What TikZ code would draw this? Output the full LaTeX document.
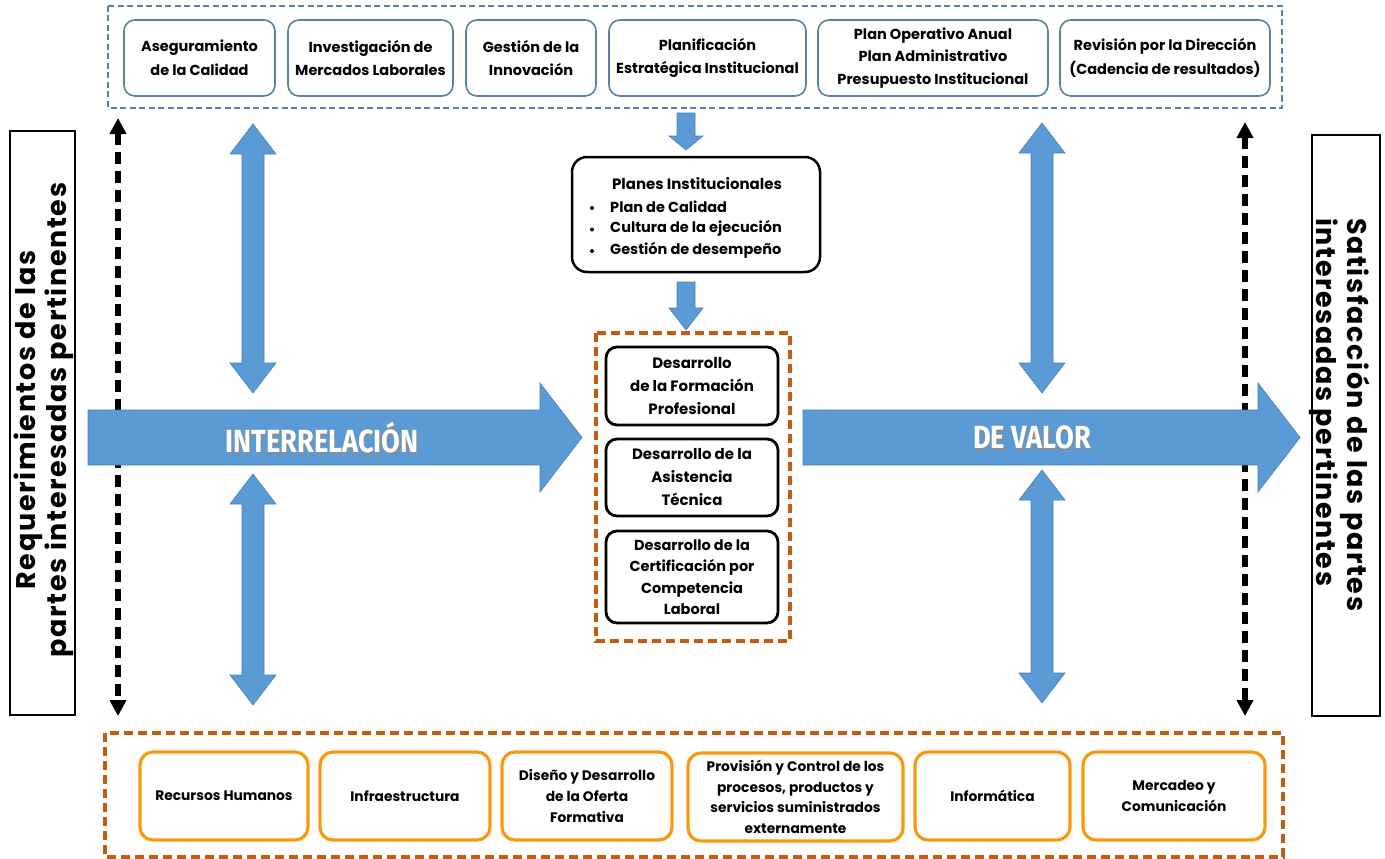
\documentclass[tikz,border=0pt]{standalone}
\usepackage{fontspec}
\setmainfont{Poppins}
\newfontfamily\condfont{Fira Sans}[FakeStretch=0.85]
\newfontfamily\sidefont{Poppins}[LetterSpace=6]
\usetikzlibrary{arrows.meta}
\definecolor{blk}{HTML}{5B9BD5}
\definecolor{blkedge}{HTML}{4A7EBB}
\definecolor{steel}{HTML}{5A80A8}
\definecolor{rust}{HTML}{C55A11}
\definecolor{amber}{HTML}{F79A10}
\newcommand\dblvarrow[3]{%
  \path[blockarrow] (#1-11,#2+30) -- (#1-23,#2+30) -- (#1,#2) -- (#1+23,#2+30) -- (#1+11,#2+30)
   -- (#1+11,#3-30) -- (#1+23,#3-30) -- (#1,#3) -- (#1-23,#3-30) -- (#1-11,#3-30) -- cycle;}
\newcommand\downblock[4]{% x, top, headbase, tip
  \path[blockarrow] (#1-9,#2) -- (#1+9,#2) -- (#1+9,#3) -- (#1+17,#3) -- (#1,#4) -- (#1-17,#3) -- (#1-9,#3) -- cycle;}
\begin{document}
\begin{tikzpicture}[x=1pt,y=-1pt,
  topbox/.style={draw=steel, line width=1.6pt, rounded corners=11pt, fill=white, align=center,
    font=\bfseries\fontsize{14.5}{23.5}\selectfont, inner sep=0pt, minimum height=76pt},
  midbox/.style={draw=black, line width=2.8pt, rounded corners=11pt, fill=white, align=center,
    font=\bfseries\fontsize{15}{23}\selectfont, inner sep=0pt, minimum width=172pt},
  botbox/.style={draw=amber, line width=3.2pt, rounded corners=13pt, fill=white, align=center,
    font=\bfseries\fontsize{13.8}{21}\selectfont, inner sep=0pt, minimum height=88pt},
  sidebox/.style={draw=black, line width=2.6pt, fill=white},
  sidetext/.style={inner sep=0pt, font=\sidefont\bfseries\fontsize{27}{31}\selectfont},
  blockarrow/.style={fill=blk, draw=blkedge, line width=0.6pt, line join=miter},
  bigtext/.style={text=white, font=\condfont\bfseries\fontsize{32}{34}\selectfont},
  shadowtext/.style={text=black!45, font=\condfont\bfseries\fontsize{32}{34}\selectfont},
  blackdash/.style={line width=6pt, dash pattern=on 12pt off 7pt, {Triangle[length=16pt,width=16pt]}-{Triangle[length=16pt,width=16pt]}},
  bullettext/.style={anchor=west, inner sep=0pt, font=\bfseries\fontsize{14.5}{16}\selectfont}
]
\useasboundingbox (0,0) rectangle (1385,859);
\fill[white] (0,0) rectangle (1385,859);

% top group
\draw[steel, line width=1.4pt, dash pattern=on 6pt off 3.5pt] (108,6) rectangle (1282,108);
\node[topbox, minimum width=151pt] (t1) at (199.5,58) {Aseguramiento\\de la Calidad};
\node[topbox, minimum width=165pt] (t2) at (370.5,58) {Investigación de\\Mercados Laborales};
\node[topbox, minimum width=130pt] (t3) at (531,58) {Gestión de la\\Innovación};
\node[topbox, minimum width=197pt] (t4) at (707.5,58) {Planificación\\Estratégica Institucional};
\node[topbox, minimum width=230pt, font=\bfseries\fontsize{14.5}{22.5}\selectfont] (t5) at (933,58) {Plan Operativo Anual\\Plan Administrativo\\Presupuesto Institucional};
\node[topbox, minimum width=210pt] (t6) at (1165,58) {Revisión por la Dirección\\(Cadencia de resultados)};

% side boxes
\node[sidebox, minimum width=65pt, minimum height=584pt] (lbox) at (42.5,423) {};
\node[sidetext, rotate=90, align=center] (ltext) at (44,420) {Requerimientos de las\\partes interesadas pertinentes};
\node[sidebox, minimum width=68pt, minimum height=581pt] (rbox) at (1346,425.5) {};
\node[sidetext, rotate=-90, align=left, anchor=north west] (rtext) at (1370,218) {Satisfacción de las partes\\interesadas pertinentes};

% dashed black arrows
\coordinate (la1) at (118,118); \coordinate (la2) at (118,716);
\coordinate (ra1) at (1245,122); \coordinate (ra2) at (1245,716);
\draw[blackdash] (la1) -- (la2);
\draw[blackdash] (ra1) -- (ra2);

% big horizontal arrows
\path[blockarrow] (88,410) -- (540,410) -- (540,383) -- (582,437.5) -- (540,492) -- (540,465) -- (88,465) -- cycle;
\path[blockarrow] (803,410) -- (1258,410) -- (1258,383) -- (1300,437.5) -- (1258,492) -- (1258,465) -- (803,465) -- cycle;
\node[shadowtext] at (323.5,439.5) {INTERRELACIÓN};
\node[bigtext] (inter) at (322,437.5) {INTERRELACIÓN};
\node[shadowtext] at (1033.5,439.5) {DE VALOR};
\node[bigtext] (valor) at (1032,437.5) {DE VALOR};

% vertical double arrows
\dblvarrow{253}{124}{393}
\dblvarrow{253}{474}{705}
\dblvarrow{1042}{123}{393}
\dblvarrow{1042}{470}{703}

% central column
\downblock{686}{113}{136}{150}
\node[draw=black, line width=2.5pt, rounded corners=15pt, fill=white, minimum width=248pt, minimum height=115pt, inner sep=0pt] (planes) at (696,214.5) {};
\node[font=\bfseries\fontsize{15}{16}\selectfont, inner sep=0pt] (ptitle) at (697,184) {Planes Institucionales};
\node[bullettext] (b1) at (610,207) {Plan de Calidad};
\node[bullettext] (b2) at (610,228.5) {Cultura de la ejecución};
\node[bullettext] (b3) at (610,250) {Gestión de desempeño};
\foreach \yy in {208,229.5,251} \fill (592,\yy) circle (2pt);
\downblock{686}{282}{308}{330}

\draw[rust, line width=3.2pt, dash pattern=on 9pt off 5pt] (596,333) rectangle (790,641);
\node[midbox, minimum height=78pt] (m1) at (692,386) {Desarrollo\\de la Formación\\Profesional};
\node[midbox, minimum height=77pt] (m2) at (692,477.5) {Desarrollo de la\\Asistencia\\Técnica};
\node[midbox, minimum height=92pt, font=\bfseries\fontsize{14.5}{21.5}\selectfont] (m3) at (692,577) {Desarrollo de la\\Certificación por\\Competencia\\Laboral};

% bottom group
\draw[rust, line width=3.2pt, dash pattern=on 9pt off 5pt] (105,733) rectangle (1283,857);
\node[botbox, minimum width=168pt] (s1) at (224,796) {Recursos Humanos};
\node[botbox, minimum width=170pt] (s2) at (405,796) {Infraestructura};
\node[botbox, minimum width=170pt] (s3) at (587,796) {Diseño y Desarrollo\\de la Oferta\\Formativa};
\node[botbox, minimum width=215pt, font=\bfseries\fontsize{13.8}{20.5}\selectfont] (s4) at (795.5,797) {Provisión y Control de los\\procesos, productos y\\servicios suministrados\\externamente};
\node[botbox, minimum width=155pt] (s5) at (992.5,796) {Informática};
\node[botbox, minimum width=182pt] (s6) at (1174,796) {Mercadeo y\\Comunicación};
\end{tikzpicture}
\end{document}
